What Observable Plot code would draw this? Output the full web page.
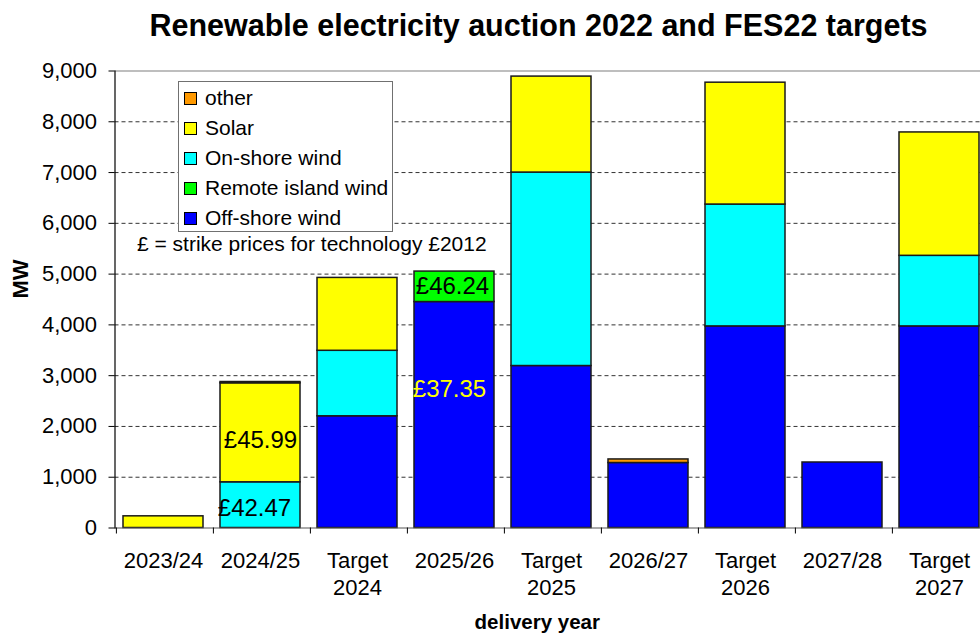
<!DOCTYPE html>
<html>
<head>
<meta charset="utf-8">
<script src="https://cdn.jsdelivr.net/npm/d3@7"></script>
<script src="https://cdn.jsdelivr.net/npm/@observablehq/plot@0.6"></script>
<style>
html, body { margin: 0; padding: 0; background: #fff; overflow: hidden; }
#wrap { position: relative; width: 980px; height: 634px; font-family: "Liberation Sans", Arial, sans-serif; color: #000; }
#title { height: 50px; line-height: 50px; padding-left: 97px; width: 883px; text-align: center; font-weight: bold; font-size: 30.5px; white-space: nowrap; }
#legend { position: absolute; left: 178px; top: 81px; width: 215px; height: 151px; box-sizing: border-box; border: 1.5px solid #707070; background: #fff; padding-top: 1px; }
.row { display: flex; align-items: center; height: 30px; font-size: 21px; white-space: nowrap; }
.sw { width: 11px; height: 11px; border: 1px solid #000; margin-left: 5px; margin-right: 8px; }
#note { position: absolute; left: 137px; top: 229px; line-height: 30px; font-size: 21px; white-space: nowrap; }
</style>
</head>
<body>
<div id="wrap">
  <div id="title">Renewable electricity auction 2022 and FES22 targets</div>
  <div id="chart"></div>
  <div id="legend"></div>
  <div id="note">£ = strike prices for technology £2012</div>
</div>
<script>
// ---- data ----
const categories = ["2023/24", "2024/25", "Target\n2024", "2025/26", "Target\n2025", "2026/27", "Target\n2026", "2027/28", "Target\n2027"];
const techs = ["Off-shore wind", "Remote island wind", "On-shore wind", "Solar", "other"];
const techColors = ["#0000ff", "#00ff00", "#00ffff", "#ffff00", "#ff9900"];
const offshore     = [0,    0, 2200, 4450, 3190, 1280, 3970, 1290, 3970];
const remoteIsland = [0,    0,    0,  600,    0,    0,    0,    0,    0];
const onshore      = [0,  900, 1290,    0, 3810,    0, 2400,    0, 1390];
const solar        = [230, 1950, 1435,  0, 1890,    0, 2400,    0, 2430];
const other        = [0,   25,    0,    0,    0,   70,    0,    0,    0];
const yTicks = [0, 1000, 2000, 3000, 4000, 5000, 6000, 7000, 8000, 9000];
const priceCats  = ["2024/25", "2024/25", "2025/26", "2025/26"];
const priceTechs = ["Solar", "On-shore wind", "Remote island wind", "Off-shore wind"];
const priceTexts = ["£45.99", "£42.47", "£46.24", "£37.35"];

// ---- build tables ----
const seriesValues = [offshore, remoteIsland, onshore, solar, other];
const rows = [];
categories.forEach((c, i) => techs.forEach((t, j) => {
  if (seriesValues[j][i] > 0) rows.push({cat: c, tech: t, value: seriesValues[j][i]});
}));
const priceRows = priceCats.map((c, k) => {
  const i = categories.indexOf(c), j = techs.indexOf(priceTechs[k]);
  let base = 0;
  for (let m = 0; m < j; m++) base += seriesValues[m][i];
  return {cat: c, mid: base + seriesValues[j][i] / 2, text: priceTexts[k]};
});

const step = (989.3 - 114.5) / categories.length;

const chart = Plot.plot({
  width: 980,
  height: 584,
  marginLeft: 114.5,
  marginRight: 0,
  marginTop: 20.5,
  marginBottom: 106.5,
  style: {fontFamily: '"Liberation Sans", Arial, sans-serif', fontSize: "22px", color: "#000", background: "transparent", overflow: "visible"},
  x: {type: "band", domain: categories, range: [113, 988], paddingInner: 0.18, paddingOuter: 0.09, label: null},
  y: {domain: [0, 9000], label: null},
  color: {domain: techs, range: techColors},
  marks: [
    Plot.gridY(yTicks.filter(v => v > 0 && v < 9000), {stroke: "#333", strokeOpacity: 1, strokeDasharray: "4,3"}),
    Plot.ruleY([9000], {stroke: "#a8a8a8", strokeWidth: 1.5}),
    Plot.barY(rows, Plot.stackY({x: "cat", y: "value", fill: "tech", stroke: "#1a1a1a", strokeWidth: 1.5})),
    Plot.ruleY([0], {stroke: "#555", strokeWidth: 1.2}),
    Plot.frame({anchor: "left", stroke: "#000", strokeWidth: 1.2}),
    Plot.axisY(yTicks, {tickSize: 6, tickPadding: 12, tickFormat: d3.format(","), fontSize: 22, label: null}),
    Plot.axisX({tickSize: 0, tickPadding: 21, fontSize: 22, lineHeight: 1.23, label: null}),
    Plot.axisX({tickSize: 6, tickFormat: () => "", dx: -step / 2 + 1.5, label: null}),
    Plot.text(priceRows.filter(d => d.text === "£45.99"), {x: "cat", y: "mid", text: "text", fontSize: 24, fill: "#000", dy: 8}),
    Plot.text(priceRows.filter(d => d.text === "£42.47"), {x: "cat", y: "mid", text: "text", fontSize: 24, fill: "#000", dx: -6, dy: 3}),
    Plot.text(priceRows.filter(d => d.text === "£46.24"), {x: "cat", y: "mid", text: "text", fontSize: 24, fill: "#000", dx: -2}),
    Plot.text(priceRows.filter(d => d.text === "£37.35"), {x: "cat", y: "mid", text: "text", fontSize: 24, fill: "#ffff00", dx: -5, dy: -26}),
    Plot.text(["MW"], {text: d => d, frameAnchor: "left", rotate: -90, dx: -94.5, dy: -1, fontWeight: "bold", fontSize: 22}),
    Plot.text(["delivery year"], {text: d => d, frameAnchor: "bottom", dx: -10.5, dy: 101, fontWeight: "bold", fontSize: 20.5})
  ]
});
document.getElementById("chart").appendChild(chart);

// ---- legend (reverse stacking order) ----
const legend = document.getElementById("legend");
techs.slice().reverse().forEach(t => {
  const r = document.createElement("div");
  r.className = "row";
  const s = document.createElement("div");
  s.className = "sw";
  s.style.background = techColors[techs.indexOf(t)];
  const l = document.createElement("span");
  l.textContent = t;
  r.appendChild(s); r.appendChild(l);
  legend.appendChild(r);
});
</script>
</body>
</html>
